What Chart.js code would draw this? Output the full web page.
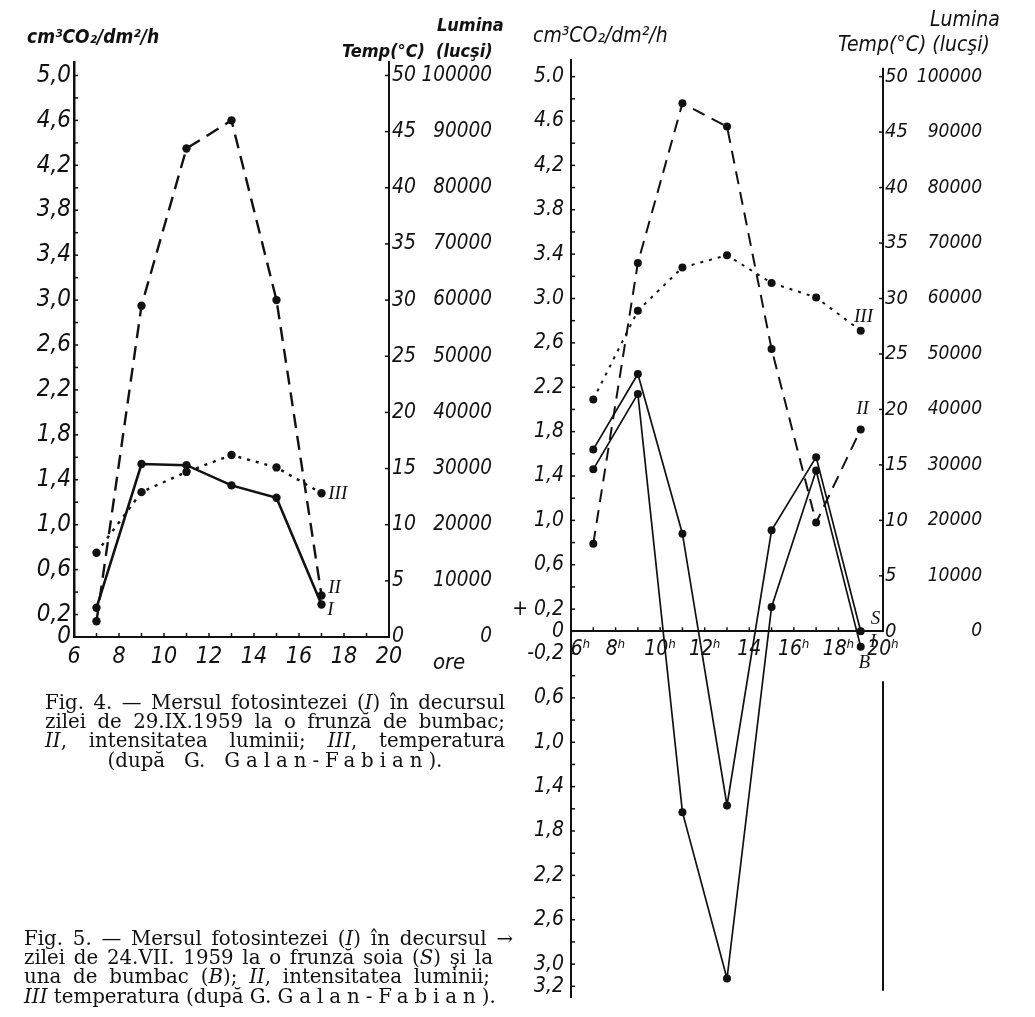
<!DOCTYPE html>
<html><head><meta charset="utf-8">
<script src="https://cdn.jsdelivr.net/npm/chart.js@4/dist/chart.umd.min.js"></script>
<style>
html,body{margin:0;padding:0;background:#fff;}
body{width:1035px;height:1017px;position:relative;overflow:hidden;color:#111;}
canvas{position:absolute;top:0;}
#c4{left:0;}
#c5{left:500px;}
.t{position:absolute;white-space:nowrap;font-family:'Liberation Sans Narrow','DejaVu Sans Condensed','Liberation Sans',sans-serif;font-style:italic;font-size:21px;line-height:1;}
.b{font-weight:bold;font-size:18px;}
.cap{position:absolute;font-family:'DejaVu Serif','Liberation Serif',serif;font-size:19.8px;line-height:19.2px;color:#111;}
.cap div{white-space:nowrap;}
.cap .j{text-align:justify;text-align-last:justify;}
.sp{letter-spacing:0.3em;}
</style></head>
<body>
<canvas id="c4" width="520" height="700"></canvas>
<canvas id="c5" width="535" height="1017"></canvas>

<div class="t b" style="left:27px;top:27px;font-size:19px;">cm³CO₂/dm²/h</div>
<div class="t b" style="left:437px;top:16px;">Lumina</div>
<div class="t b" style="left:342px;top:42px;">Temp(°C)</div>
<div class="t b" style="left:436px;top:42px;">(lucşi)</div>

<div class="t" style="left:533px;top:25px;">cm³CO₂/dm²/h</div>
<div class="t" style="left:930px;top:9px;">Lumina</div>
<div class="t" style="left:838px;top:34px;">Temp(°C) (lucşi)</div>

<div class="cap" style="left:45px;top:693px;width:460px;">
 <div class="j">Fig. 4. — Mersul fotosintezei (<i>I</i>) în decursul</div>
 <div class="j">zilei de 29.IX.1959 la o frunză de bumbac;</div>
 <div class="j"><i>II</i>, intensitatea luminii; <i>III</i>, temperatura</div>
 <div style="text-align:center;">(după&nbsp;&nbsp; G.&nbsp;&nbsp; <span class="sp">Galan-Fabian</span>).</div>
</div>

<div class="cap" style="left:24px;top:929px;width:489px;">
 <div class="j">Fig. 5. — Mersul fotosintezei (<i>I</i>) în decursul →</div>
 <div class="j" style="width:469px;">zilei de 24.VII. 1959 la o frunză soia (<i>S</i>) şi la</div>
 <div class="j" style="width:466px;">una de bumbac (<i>B</i>); <i>II</i>, intensitatea luminii;</div>
 <div class="j" style="width:469px;"><i>III</i> temperatura (după G. <span class="sp">Galan-Fabian</span>).</div>
</div>

<script>
// ---------- Fig. 4 data (29.IX.1959, bumbac) ----------
const fig4Hours = [7, 9, 11, 13, 15, 17];
const fig4Photosynthesis = [0.26, 1.54, 1.53, 1.35, 1.24, 0.29];   // I, cm3 CO2/dm2/h
const fig4Light = [2800, 59000, 87000, 92000, 60000, 7400];          // II, lucşi
const fig4Temperature = [7.5, 12.9, 14.7, 16.2, 15.1, 12.8];         // III, °C
const fig4XTickValues = [6, 8, 10, 12, 14, 16, 18, 20];
const fig4XTickLabels = ['6', '8', '10', '12', '14', '16', '18', '20'];
const fig4YTickValues = [0, 0.2, 0.6, 1.0, 1.4, 1.8, 2.2, 2.6, 3.0, 3.4, 3.8, 4.2, 4.6, 5.0];
const fig4YTickLabels = ['0', '0,2', '0,6', '1,0', '1,4', '1,8', '2,2', '2,6', '3,0', '3,4', '3,8', '4,2', '4,6', '5,0'];

// ---------- Fig. 5 data (24.VII.1959, soia S / bumbac B) ----------
const fig5Hours = [7, 9, 11, 13, 15, 17, 19];
const fig5Soy = [1.64, 2.32, 0.88, -1.57, 0.91, 1.57, 0.0];          // I (S)
const fig5Cotton = [1.46, 2.14, -1.63, -3.13, 0.22, 1.45, -0.14];    // I (B)
const fig5Light = [15800, 66400, 95200, 91000, 50900, 19600, 36400]; // II, lucşi
const fig5Temperature = [20.9, 28.9, 32.8, 33.9, 31.4, 30.1, 27.1];  // III, °C
const fig5XTickValues = [6, 8, 10, 12, 14, 16, 18, 20];
const fig5XTickLabels = ['\u2002\u20026ʰ', '8ʰ', '10ʰ', '12ʰ', '14', '16ʰ', '18ʰ', '20ʰ'];
const fig5YTickValues = [-3.2, -3.0, -2.6, -2.2, -1.8, -1.4, -1.0, -0.6, -0.2, 0, 0.2, 0.6, 1.0, 1.4, 1.8, 2.2, 2.6, 3.0, 3.4, 3.8, 4.2, 4.6, 5.0];
const fig5YTickLabels = ['3,2', '3,0', '2,6', '2,2', '1,8', '1,4', '1,0', '0,6', '-0,2', '0', '+ 0,2', '0,6', '1,0', '1,4', '1,8', '2.2', '2,6', '3.0', '3.4', '3.8', '4,2', '4.6', '5.0'];

// ---------- shared right axes ----------
const tempTickValues = [0, 5, 10, 15, 20, 25, 30, 35, 40, 45, 50];
const tempTickLabels = ['0', '5', '10', '15', '20', '25', '30', '35', '40', '45', '50'];
const luxTickValues = [0, 10000, 20000, 30000, 40000, 50000, 60000, 70000, 80000, 90000, 100000];
const luxTickLabels = ['0', '10000', '20000', '30000', '40000', '50000', '60000', '70000', '80000', '90000', '100000'];

const FONT = "'Liberation Sans Narrow','DejaVu Sans Condensed','Liberation Sans',sans-serif";
const INK = '#111';
Chart.defaults.color = INK;
Chart.defaults.font.family = FONT;

function pts(xs, ys) { return xs.map((x, i) => ({x: x, y: ys[i]})); }
function lookup(values, labels) {
  return v => { const i = values.findIndex(w => Math.abs(w - v) < 1e-6); return i < 0 ? '' : labels[i]; };
}
function fixedTicks(values) { return s => { s.ticks = values.map(v => ({value: v})); }; }
function stepTicks(lo, hi, step) {
  return s => { const a = []; const n = Math.round((hi - lo) / step); for (let k = 0; k <= n; k++) a.push(+(lo + k * step).toFixed(4)); s.ticks = a.map(v => ({value: v})); };
}

const innerTicks = {
  id: 'innerTicks',
  afterDraw(chart, args, opts) {
    const ctx = chart.ctx;
    ctx.save(); ctx.strokeStyle = INK; ctx.lineWidth = opts.width || 1.5;
    (opts.items || []).forEach(it => {
      const s = chart.scales[it.scale];
      s.ticks.forEach(t => {
        const p = s.getPixelForValue(t.value);
        ctx.beginPath();
        if (s.isHorizontal()) {
          const y0 = it.atY !== undefined ? chart.scales.y.getPixelForValue(it.atY) : s.top;
          ctx.moveTo(p, y0); ctx.lineTo(p, y0 - it.len);
        } else if (s.position === 'left') {
          ctx.moveTo(s.right, p); ctx.lineTo(s.right + it.len, p);
        } else {
          ctx.moveTo(s.left, p); ctx.lineTo(s.left - it.len, p);
        }
        ctx.stroke();
      });
    });
    ctx.restore();
  }
};
const axisSegments = {
  id: 'axisSegments',
  afterDraw(chart, args, opts) {
    if (!opts.segments) return;
    const ctx = chart.ctx, y = chart.scales.y, s = chart.scales[opts.scale];
    ctx.save(); ctx.strokeStyle = INK; ctx.lineWidth = opts.width || 2;
    opts.segments.forEach(seg => {
      ctx.beginPath(); ctx.moveTo(s.left, y.getPixelForValue(seg[0])); ctx.lineTo(s.left, y.getPixelForValue(seg[1])); ctx.stroke();
    });
    ctx.restore();
  }
};
const textLabels = {
  id: 'textLabels',
  afterDraw(chart, args, opts) {
    const ctx = chart.ctx, x = chart.scales.x, y = chart.scales.y;
    ctx.save(); ctx.fillStyle = INK; ctx.textBaseline = 'middle';
    (opts.items || []).forEach(it => {
      ctx.font = it.font || opts.font; ctx.textAlign = it.align || 'left';
      ctx.fillText(it.text, x.getPixelForValue(it.x), y.getPixelForValue(it.y));
    });
    ctx.restore();
  }
};

function lineDs(label, data, axis, dash, width, r) {
  return {label, data, yAxisID: axis, borderColor: INK, backgroundColor: INK, borderWidth: width,
    borderDash: dash, pointRadius: r, pointBackgroundColor: INK, pointBorderWidth: 0, tension: 0, fill: false};
}
function w(n) { return s => { s.width = n; }; }
function h(n) { return s => { s.height = n; }; }

// ---------------- Fig. 4 ----------------
new Chart(document.getElementById('c4'), {
  type: 'line',
  data: { datasets: [
    lineDs('I', pts(fig4Hours, fig4Photosynthesis), 'y', [], 2.6, 4.2),
    lineDs('II', pts(fig4Hours, fig4Light), 'lux', [14, 8], 2.4, 4.2),
    lineDs('III', pts(fig4Hours, fig4Temperature), 'temp', [3, 6], 2.4, 4.2)
  ]},
  options: {
    responsive: false, animation: false, devicePixelRatio: 1,
    layout: {padding: {left: 0, right: 28, top: 62, bottom: 23}},
    plugins: {
      legend: {display: false}, tooltip: {enabled: false},
      innerTicks: {items: [{scale: 'y', len: 4}, {scale: 'x', len: 4}, {scale: 'temp', len: 4}]},
      textLabels: {font: "italic 19px 'Liberation Serif','DejaVu Serif',serif", items: [
        {text: 'III', x: 17.3, y: 1.27}, {text: 'II', x: 17.3, y: 0.44}, {text: 'I', x: 17.25, y: 0.24},
        {text: 'ore', x: 21.95, y: -0.23, font: "italic 22px " + FONT}
      ]}
    },
    scales: {
      x: {type: 'linear', position: 'bottom', min: 6, max: 20,
        afterBuildTicks: stepTicks(6, 20, 1), afterFit: h(40),
        grid: {display: false, drawTicks: false}, border: {display: true, color: INK, width: 2},
        ticks: {autoSkip: false, maxRotation: 0, padding: 6, font: {size: 23, style: 'italic'}, callback: lookup(fig4XTickValues, fig4XTickLabels)}},
      y: {type: 'linear', position: 'left', min: 0, max: 5.12,
        afterBuildTicks: stepTicks(0, 5.0, 0.2), afterFit: w(74),
        grid: {display: false, drawTicks: false}, border: {display: true, color: INK, width: 2.5},
        ticks: {autoSkip: false, padding: 3, font: {size: 24, style: 'italic'}, callback: lookup(fig4YTickValues, fig4YTickLabels)}},
      temp: {type: 'linear', position: 'right', weight: 0, min: 0, max: 51.2,
        afterBuildTicks: fixedTicks(tempTickValues), afterFit: w(27),
        grid: {display: false, drawTicks: false}, border: {display: true, color: INK, width: 2},
        ticks: {autoSkip: false, padding: 3, font: {size: 21, style: 'italic'}, callback: lookup(tempTickValues, tempTickLabels)}},
      lux: {type: 'linear', position: 'right', weight: 1, min: 0, max: 102400,
        afterBuildTicks: fixedTicks(luxTickValues), afterFit: w(76),
        grid: {display: false, drawTicks: false}, border: {display: false},
        ticks: {autoSkip: false, padding: 0, crossAlign: 'far', font: {size: 20.5, style: 'italic'}, callback: lookup(luxTickValues, luxTickLabels)}}
    }
  },
  plugins: [innerTicks, textLabels]
});

// ---------------- Fig. 5 ----------------
new Chart(document.getElementById('c5'), {
  type: 'line',
  data: { datasets: [
    lineDs('I S', pts(fig5Hours, fig5Soy), 'y', [], 1.7, 4),
    lineDs('I B', pts(fig5Hours, fig5Cotton), 'y', [], 1.7, 4),
    lineDs('II', pts(fig5Hours, fig5Light), 'lux', [13, 8], 2, 4),
    lineDs('III', pts(fig5Hours, fig5Temperature), 'temp', [3, 6], 2, 4)
  ]},
  options: {
    responsive: false, animation: false, devicePixelRatio: 1,
    layout: {padding: {left: 0, right: 53, top: 60, bottom: 10}},
    plugins: {
      legend: {display: false}, tooltip: {enabled: false},
      innerTicks: {items: [{scale: 'y', len: 4}, {scale: 'x', len: 4, atY: 0}, {scale: 'temp', len: 4}]},
      axisSegments: {scale: 'temp', width: 2, segments: [[5.08, 0], [-0.45, -3.24]]},
      textLabels: {font: "italic 19px 'Liberation Serif','DejaVu Serif',serif", items: [
        {text: 'III', x: 18.7, y: 2.83}, {text: 'II', x: 18.8, y: 2.0},
        {text: 'S', x: 19.45, y: 0.11}, {text: 'I', x: 19.4, y: -0.1}, {text: 'B', x: 18.9, y: -0.29}
      ]}
    },
    scales: {
      x: {type: 'linear', position: {y: 0}, min: 6, max: 20,
        afterBuildTicks: stepTicks(6, 20, 1),
        grid: {display: false, drawTicks: false}, border: {display: true, color: INK, width: 2},
        ticks: {autoSkip: false, maxRotation: 0, padding: 6, font: {size: 21, style: 'italic'}, callback: lookup(fig5XTickValues, fig5XTickLabels)}},
      y: {type: 'linear', position: 'left', min: -3.3, max: 5.15,
        afterBuildTicks: stepTicks(-3.2, 5.0, 0.2), afterFit: w(71),
        grid: {display: false, drawTicks: false}, border: {display: true, color: INK, width: 2},
        ticks: {autoSkip: false, padding: 7, font: {size: 21, style: 'italic'}, callback: lookup(fig5YTickValues, fig5YTickLabels)}},
      temp: {type: 'linear', position: 'right', weight: 0, min: -33, max: 51.5,
        afterBuildTicks: fixedTicks(tempTickValues), afterFit: w(29),
        grid: {display: false, drawTicks: false}, border: {display: false},
        ticks: {autoSkip: false, padding: 2, font: {size: 20, style: 'italic'}, callback: lookup(tempTickValues, tempTickLabels)}},
      lux: {type: 'linear', position: 'right', weight: 1, min: -66000, max: 103000,
        afterBuildTicks: fixedTicks(luxTickValues), afterFit: w(70),
        grid: {display: false, drawTicks: false}, border: {display: false},
        ticks: {autoSkip: false, padding: 0, crossAlign: 'far', font: {size: 19, style: 'italic'}, callback: lookup(luxTickValues, luxTickLabels)}}
    }
  },
  plugins: [innerTicks, axisSegments, textLabels]
});
</script>
</body></html>
